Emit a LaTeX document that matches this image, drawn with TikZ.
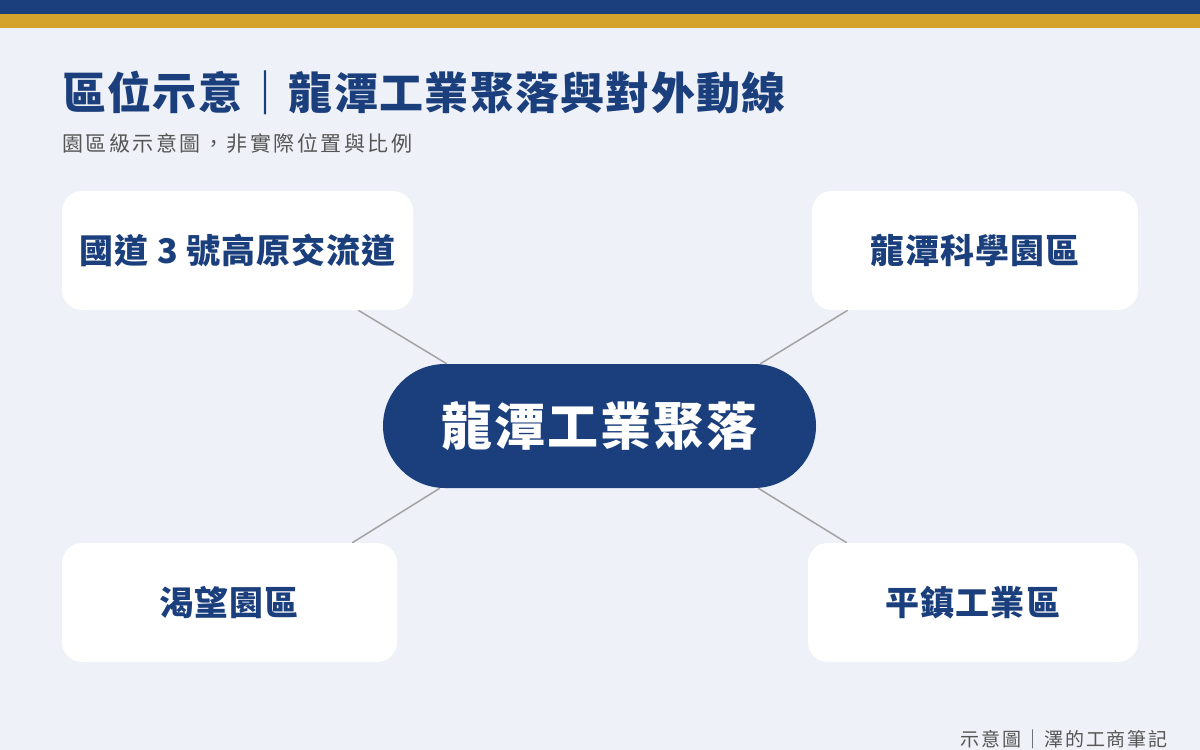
\documentclass[tikz,border=0pt]{standalone}
\usepackage{fontspec}
\setmainfont{Noto Sans CJK TC}
\usetikzlibrary{calc}
\usetikzlibrary{backgrounds}
\definecolor{color_bg}{HTML}{EEF1F7}
\definecolor{color_navy}{HTML}{1B3F7C}
\definecolor{color_gold}{HTML}{D4A32C}
\definecolor{color_note}{HTML}{555555}
\definecolor{color_link}{HTML}{A3A3A3}
\tikzset{
  spot/.style={fill=white, rounded corners=20pt, minimum height=119pt, inner sep=0pt,
    text=color_navy, font=\fontsize{34}{40}\selectfont\bfseries\addfontfeatures{LetterSpace=3}},
  hub/.style={fill=color_navy, rounded corners=62pt, minimum width=433pt, minimum height=124pt,
    inner sep=0pt, text=white, font=\fontsize{51}{60}\selectfont\bfseries\addfontfeatures{LetterSpace=4}},
  link/.style={color_link, line width=1.5pt},
}

\begin{document}
\begin{tikzpicture}[x=1pt, y=-1pt]
    \useasboundingbox (0,0) rectangle (1200,750);
    % top bars
    \fill[color_navy] (0,0) rectangle (1200,14);
    \fill[color_gold] (0,14) rectangle (1200,28);
    % heading
    \node[anchor=base west, inner sep=0pt, text=color_navy, font=\fontsize{44}{50}\selectfont\bfseries\addfontfeatures{LetterSpace=3}] (title) at (62,109) {區位示意｜龍潭工業聚落與對外動線};
    \node[anchor=base west, inner sep=0pt, text=color_note, font=\fontsize{21}{25}\selectfont\addfontfeatures{LetterSpace=12}] (subtitle) at (62,151) {園區級示意圖，非實際位置與比例};
    % hub
    \node[hub] (core) at (599.5,426) {龍潭工業聚落};
    % places around the hub
    \node[spot, minimum width=351pt] (road) at (237.5,250.5) {國道 3 號高原交流道};
    \node[spot, minimum width=326pt] (park) at (975,250.5) {龍潭科學園區};
    \node[spot, minimum width=335pt] (hope) at (229.5,602.5) {渴望園區};
    \node[spot, minimum width=330pt] (pz) at (973,602.5) {平鎮工業區};
    % footer
    \node[anchor=base east, inner sep=0pt, text=color_note, font=\fontsize{19}{23}\selectfont\addfontfeatures{LetterSpace=10}] (credit) at (1168,746) {示意圖｜澤的工商筆記};
    \begin{scope}[on background layer]
        \fill[color_bg] (0,0) rectangle (1200,750);
        % links
        \draw[link] ($(road.south east)+(-55,0)$) -- ($(core.north west)+(64,0)$);
        \draw[link] ($(park.south west)+(36,0)$) -- ($(core.north east)+(-56,0)$);
        \draw[link] ($(hope.north east)+(-45,0)$) -- ($(core.south west)+(57,0)$);
        \draw[link] ($(pz.north west)+(39,0)$) -- ($(core.south east)+(-58,0)$);
    \end{scope}
\end{tikzpicture}
\end{document}
